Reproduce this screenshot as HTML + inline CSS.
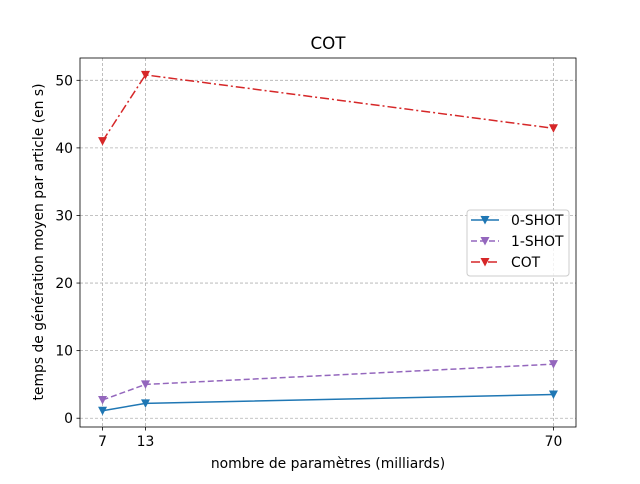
<!DOCTYPE html>
<html><head><meta charset="utf-8"><style>
body{margin:0;background:#fff;font-family:"DejaVu Sans","Liberation Sans",sans-serif;}
</style></head><body>
<svg width="640" height="480" viewBox="0 0 640 480" xmlns="http://www.w3.org/2000/svg" font-family="DejaVu Sans, Liberation Sans, sans-serif">
<rect width="640" height="480" fill="#fff"/>
<g id="grid"></g>
<g id="series"></g>
<rect x="80" y="58" width="496" height="369" fill="none" stroke="#000" stroke-width="0.8"/>
<g id="ticks"></g>
<text x="328" y="49" font-size="16.7" text-anchor="middle">COT</text>
<text x="328" y="468" font-size="13.9" text-anchor="middle">nombre de paramètres (milliards)</text>
<text transform="translate(43,242) rotate(-90)" font-size="13.9" text-anchor="middle">temps de génération moyen par article (en s)</text>
<g>
<rect x="467" y="210" width="102" height="66" rx="3" fill="#fff" fill-opacity="0.8" stroke="#ccc"/>
<g id="legend-items"></g>
</g>
</svg>
<script>
const categories=[7,13,70];
const yTicks=[0,10,20,30,40,50];
const seriesNames=["0-SHOT","1-SHOT","COT"];
const shot0=[1.1,2.2,3.5];
const shot1=[2.7,5.0,8.0];
const cot=[41.0,50.8,42.9];
const colors=["#1f77b4","#9467bd","#d62728"];
const dashes=["","6,3","9,3,2,3"];
const X0=80,X1=576,Y0=58,Y1=427;
const xmin=3.85,xmax=73.15;
const ymin=-1.3,ymax=53.3;
const xs=v=>X0+(v-xmin)/(xmax-xmin)*(X1-X0);
const ys=v=>Y1-(v-ymin)/(ymax-ymin)*(Y1-Y0);
const NS="http://www.w3.org/2000/svg";
function mk(t,a,p){const e=document.createElementNS(NS,t);for(const k in a)e.setAttribute(k,a[k]);p.appendChild(e);return e;}
const grid=document.getElementById('grid'),ticks=document.getElementById('ticks'),ser=document.getElementById('series'),leg=document.getElementById('legend-items');
categories.forEach(c=>{const x=xs(c);
const g=mk('line',{x1:x,x2:x,y1:Y0,y2:Y1,stroke:'#b0b0b0','stroke-dasharray':'3,2','stroke-width':0.8},grid);

const t=mk('line',{x1:x,x2:x,y1:Y1,y2:Y1+3.5,stroke:'#000','stroke-width':0.8},ticks);

const l=mk('text',{x:x,y:Y1+19,'font-size':13.9,'text-anchor':'middle'},ticks);l.textContent=c;
});
yTicks.forEach(v=>{const y=ys(v);
const g=mk('line',{x1:X0,x2:X1,y1:y,y2:y,stroke:'#b0b0b0','stroke-dasharray':'3,2','stroke-width':0.8},grid);

const t=mk('line',{x1:X0-3.5,x2:X0,y1:y,y2:y,stroke:'#000','stroke-width':0.8},ticks);

const l=mk('text',{x:X0-7,y:y+5,'font-size':13.9,'text-anchor':'end'},ticks);l.textContent=v;
});
function tri(x,y,c,p){const e=mk('path',{d:`M${x-4.5},${y-4} L${x+4.5},${y-4} L${x},${y+4.5} Z`,fill:c},p);return e;}
[shot0,shot1,cot].forEach((d,i)=>{
const pl=mk('polyline',{points:d.map((v,j)=>xs(categories[j])+','+ys(v)).join(' '),fill:'none',stroke:colors[i],'stroke-width':1.5,'stroke-dasharray':dashes[i]},ser);

d.forEach((v,j)=>{const m=tri(xs(categories[j]),ys(v),colors[i],ser);
});
const ly=220+i*21;
const ll=mk('line',{x1:471,x2:499,y1:ly,y2:ly,stroke:colors[i],'stroke-width':1.5,'stroke-dasharray':dashes[i]},leg);

const lm=tri(485,ly,colors[i],leg);
const lt=mk('text',{x:511,y:ly+5,'font-size':13.9},leg);lt.textContent=seriesNames[i];

});
</script>
</body></html>
